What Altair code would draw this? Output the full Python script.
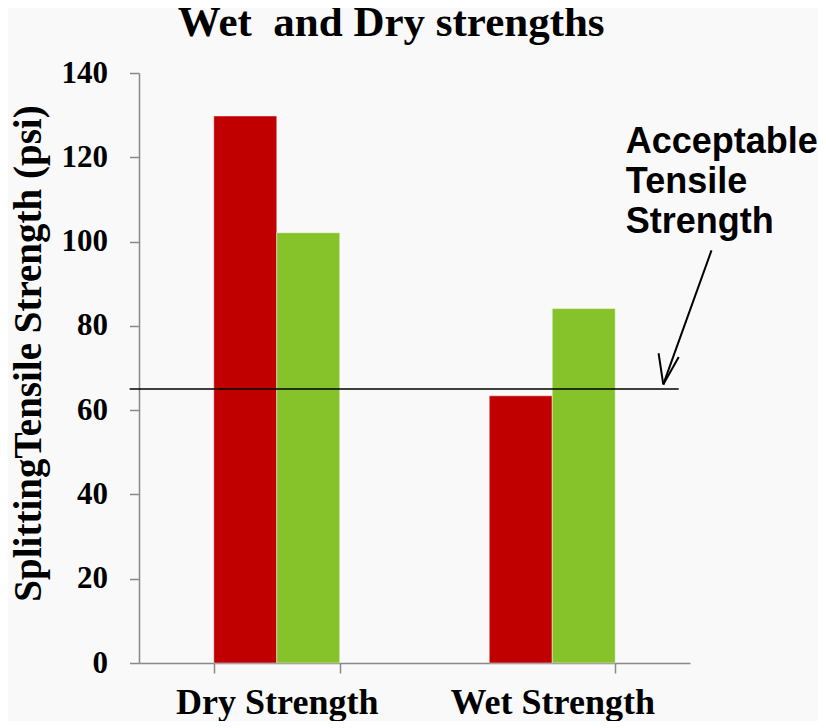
import altair as alt
import pandas as pd

# ---- data ----
categories = ["Dry Strength", "Wet Strength"]
series = ["Series 1", "Series 2"]
series1_values = [129.8, 63.4]   # red bars (dry, wet)
series2_values = [102.1, 84.1]   # green bars (dry, wet)
series_colors = ["#C00000", "#86C32A"]
y_ticks = [0, 20, 40, 60, 80, 100, 120, 140]

acceptable_strength = 65.0

chart_title = "Wet \u00a0and Dry strengths"
# annotation geometry: x in category units (0..2 across the x axis), y in psi
title_pos = [0.9154, 148.75]
line_x = [-0.034, 1.959]
arrow_tip = [1.903, 66.1]
arrow_tails_x = [2.078, 1.886, 1.959]
arrow_tails_y = [97.9, 73.5, 72.6]
label_lines = ["Acceptable", "Tensile", "Strength"]
label_pos = [1.767, 120.95]

rows = []
for i, c in enumerate(categories):
    rows.append({"category": c, "series": series[0], "value": series1_values[i]})
    rows.append({"category": c, "series": series[1], "value": series2_values[i]})
df = pd.DataFrame(rows)

serif = "Liberation Serif"
axis_gray = "#898989"

bars = alt.Chart(df).mark_bar(stroke="#ffffff", strokeOpacity=0.45, strokeWidth=1).encode(
    x=alt.X(
        "category:N", sort=categories,
        scale=alt.Scale(paddingInner=0.5427, paddingOuter=0.2714),
        axis=alt.Axis(
            title=None, labelAngle=0, labelFont=serif, labelFontSize=36,
            labelFontWeight="bold", labelColor="black", labelBaseline="alphabetic",
            labelPadding=40, labelLimit=0, tickBand="extent", tickSize=10,
            tickColor=axis_gray, tickWidth=1.5, domainColor=axis_gray,
            domainWidth=1.5, grid=False,
        ),
    ),
    xOffset=alt.XOffset("series:N", sort=series,
                        scale=alt.Scale(paddingInner=0, paddingOuter=0)),
    y=alt.Y(
        "value:Q",
        scale=alt.Scale(domain=[0, 140], nice=False),
        axis=alt.Axis(
            values=y_ticks, title="SplittingTensile Strength (psi)",
            titleFont=serif, titleFontSize=39, titleFontWeight="bold", titleColor="black",
            titleAngle=270, titleAlign="center", titleBaseline="alphabetic",
            titleX=-99, titleY=280, titleLimit=0,
            labelFont=serif, labelFontSize=31, labelFontWeight="bold", labelColor="black",
            labelPadding=22, tickSize=9.5, tickColor=axis_gray, tickWidth=1.5,
            domainColor=axis_gray, domainWidth=1.5, grid=False,
        ),
    ),
    color=alt.Color("series:N", scale=alt.Scale(domain=series, range=series_colors), legend=None),
)

xq = alt.Scale(domain=[0, 2], nice=False, zero=False)

threshold = alt.Chart(pd.DataFrame({
    "x": [line_x[0]], "x2": [line_x[1]], "value": [acceptable_strength]
})).mark_rule(color="black", strokeWidth=1.6).encode(
    x=alt.X("x:Q", scale=xq, axis=None),
    x2="x2:Q",
    y="value:Q",
)

arrow_df = pd.DataFrame({
    "x": arrow_tails_x,
    "x2": [arrow_tip[0]] * 3,
    "value": arrow_tails_y,
    "value2": [arrow_tip[1]] * 3,
})
arrow = alt.Chart(arrow_df).mark_rule(color="black", strokeWidth=2).encode(
    x=alt.X("x:Q", scale=xq, axis=None),
    x2="x2:Q",
    y="value:Q",
    y2="value2:Q",
)

label = alt.Chart(pd.DataFrame({"x": [label_pos[0]], "value": [label_pos[1]]})).mark_text(
    text=label_lines, align="left", baseline="alphabetic", font="Liberation Sans",
    fontSize=36, fontWeight="bold", lineHeight=40, color="black",
).encode(
    x=alt.X("x:Q", scale=xq, axis=None),
    y="value:Q",
)

title = alt.Chart(pd.DataFrame({"x": [title_pos[0]], "value": [title_pos[1]]})).mark_text(
    text=chart_title, align="center", baseline="alphabetic", font=serif,
    fontSize=43, fontWeight="bold", color="black",
).encode(
    x=alt.X("x:Q", scale=xq, axis=None),
    y="value:Q",
)

chart = alt.layer(bars, threshold, arrow, label, title).resolve_scale(
    x="independent"
).properties(
    width=551,
    height=590,
    autosize=alt.AutoSizeParams(type="none"),
    padding={"left": 131, "top": 65, "right": 128, "bottom": 58},
    background="#f9f9f9",
).configure_view(stroke=None)

chart.save("out.html", embed_options={"renderer": "svg", "actions": False})
